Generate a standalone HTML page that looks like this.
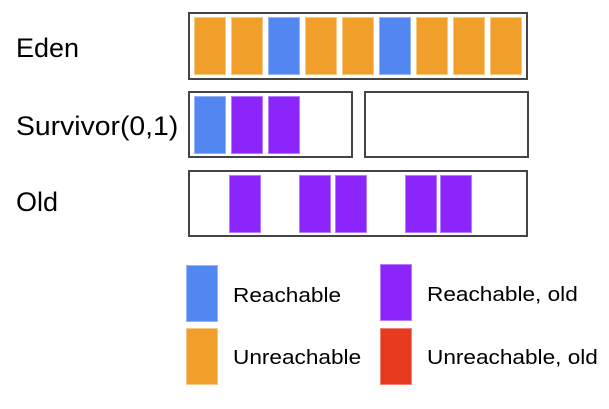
<!DOCTYPE html>
<html><head><style>
body{margin:0;width:609px;height:409px;background:#fff;position:relative;overflow:hidden;font-family:"Liberation Sans",Arial,sans-serif}
.b{position:absolute;box-sizing:border-box;border:2px solid #444}
.r{position:absolute;width:32px;height:58px;box-sizing:border-box}
.o{background:#f0a02a;border:1px solid #f6c884}
.bl{background:#5286f0;border:1px solid #94b4f5}
.p{background:#8c25fb;border:1px solid #b67bfd}
.rd{background:#e73b1f;border:1px solid #f08070}
.t{position:absolute;font-size:27px;color:#000;line-height:1;transform-origin:0 50%;white-space:nowrap}
.l{position:absolute;font-size:20px;color:#000;line-height:1;transform-origin:0 50%;transform:scaleX(1.13);white-space:nowrap}
</style></head><body>
<div class="t" style="left:16px;top:35px">Eden</div>
<div class="t" style="left:16px;top:113px;transform:scaleX(1.05)">Survivor(0,1)</div>
<div class="t" style="left:16px;top:189px">Old</div>
<div class="b" style="left:188px;top:12px;width:340px;height:68px"></div>
<div class="r o" style="left:194px;top:17px"></div>
<div class="r o" style="left:231px;top:17px"></div>
<div class="r bl" style="left:268px;top:17px"></div>
<div class="r o" style="left:305px;top:17px"></div>
<div class="r o" style="left:342px;top:17px"></div>
<div class="r bl" style="left:379px;top:17px"></div>
<div class="r o" style="left:416px;top:17px"></div>
<div class="r o" style="left:453px;top:17px"></div>
<div class="r o" style="left:490px;top:17px"></div>
<div class="b" style="left:188px;top:91px;width:165px;height:67px"></div>
<div class="b" style="left:364px;top:91px;width:165px;height:67px"></div>
<div class="r bl" style="left:194px;top:96px"></div>
<div class="r p" style="left:231px;top:96px"></div>
<div class="r p" style="left:268px;top:96px"></div>
<div class="b" style="left:188px;top:170px;width:340px;height:67px"></div>
<div class="r p" style="left:229px;top:175px"></div>
<div class="r p" style="left:299px;top:175px"></div>
<div class="r p" style="left:335px;top:175px"></div>
<div class="r p" style="left:405px;top:175px"></div>
<div class="r p" style="left:440px;top:175px"></div>
<div class="r bl" style="left:186px;top:265px;height:57px"></div>
<div class="r o" style="left:186px;top:328px;height:57px"></div>
<div class="r p" style="left:380px;top:264px;height:57px"></div>
<div class="r rd" style="left:380px;top:328px;height:57px"></div>
<div class="l" style="left:233px;top:286px">Reachable</div>
<div class="l" style="left:233px;top:348px">Unreachable</div>
<div class="l" style="left:427px;top:285px">Reachable, old</div>
<div class="l" style="left:427px;top:348px">Unreachable, old</div>
</body></html>
